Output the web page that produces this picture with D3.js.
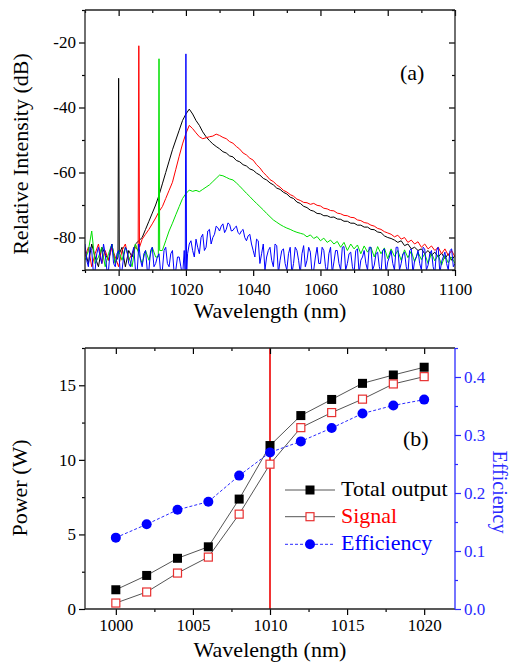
<!DOCTYPE html>
<html>
<head>
<meta charset="utf-8">
<script src="https://cdn.jsdelivr.net/npm/d3@7"></script>
<style>
body { margin: 0; background: #fff; }
</style>
</head>
<body>
<svg id="fig" width="512" height="667" font-family="Liberation Serif"></svg>
<script>
// ---- panel (a): spectra, 1 nm grid from 990 to 1100 nm
const gridWl = d3.range(990, 1101, 1);
// the blue trace is noisier, it also has readings in between (990.5 ... 1099.5)
const halfWl = d3.range(990.5, 1100, 1);

const blackDb = [
  -84, -88, -82, -86, -89, -83, -85, -87, -82, -88,
  -85, -83, -89, -84, -86, -82, -81, -80, -77.5, -75,
  -72.5, -70, -67, -63.5, -60, -56.5, -53, -50, -47, -44,
  -42, -40.5, -42, -44, -45.5, -47.5, -49, -50.2, -51.2, -52,
  -52.7, -53.6, -54, -54.9, -55.2, -56.3, -56.7, -57.6, -58, -58.9,
  -59.3, -60.2, -60.8, -61.8, -62.3, -63.2, -63.8, -64.8, -65.2, -66.1,
  -66.6, -67.6, -68, -69.1, -69.5, -70.4, -70.8, -71.6, -71.9, -72.6,
  -72.7, -73.3, -73.3, -73.8, -73.7, -74.3, -74.4, -75, -75, -75.6,
  -75.6, -76.2, -76.2, -76.8, -76.8, -77.5, -77.6, -78.3, -78.5, -79.5,
  -80, -80.3, -80.8, -81.5, -81, -82.5, -82, -83.5, -83, -84,
  -83.5, -85, -84, -85.5, -84.5, -86, -84.8, -86.5, -85, -87, -85.5
];

const redDb = [
  -86, -83, -89, -85, -82, -88, -84, -87, -83, -86,
  -89, -84, -82, -87, -85, -83, -81, -80.5, -79, -77.5,
  -75.8, -74, -72, -70.5, -68, -65.5, -63, -59, -55, -51.2,
  -48, -45.5, -46.5, -47.8, -49, -49.6, -49.3, -49, -48.8, -48.2,
  -48.6, -49.2, -49.6, -50.5, -51, -52, -52.8, -54, -54.6, -55.6,
  -56.2, -57.6, -58.6, -60, -61, -62.2, -62.8, -63.8, -64.5, -65.5,
  -66, -66.8, -67.3, -68.2, -68.6, -69.2, -69.3, -69.8, -69.5, -70.1,
  -70.3, -71, -71.2, -71.7, -71.8, -72.5, -72.7, -73.2, -73.3, -73.8,
  -73.9, -74.6, -74.8, -75.4, -75.6, -76.2, -76.5, -77.2, -77.5, -78.2,
  -78.6, -79, -79.8, -79.3, -80.5, -80, -81.5, -80.8, -82, -81.3,
  -83, -82, -83.5, -82.6, -84, -83, -85, -83.5, -85.5, -84, -86
];

const greenDb = [
  -87, -84, -78, -88, -86, -83, -89, -85, -82, -88,
  -84, -87, -83, -86, -89, -82, -85, -88, -84, -87,
  -83, -86, -85, -84, -81, -78, -75.6, -73, -70.5, -68,
  -66.5, -65.4, -65.8, -65.5, -65.9, -65.2, -64.5, -63.8, -62.8, -61.8,
  -60.8, -61, -61.5, -62, -62.3, -63.2, -64.2, -65.3, -66.4, -67.4,
  -68.5, -69.5, -70.5, -71.5, -72.6, -73.6, -74.6, -75.3, -76, -76.6,
  -77.1, -77.5, -78, -78.4, -78.7, -79, -79.8, -79.2, -80.3, -79.7,
  -81, -80.2, -81.5, -80.8, -82, -81.2, -83, -81.5, -84, -82,
  -83.5, -82.3, -85, -82.6, -84.5, -83, -86, -82.8, -85, -83.2,
  -86.5, -83.5, -85.8, -84, -87, -83.8, -86.2, -84.2, -87.5, -84.5,
  -86.8, -85, -88, -84.8, -87.2, -85.3, -88.5, -85.5, -87.8, -86, -88
];

const blueDb = [
  -82, -89, -84, -90, -83, -88, -85, -90, -82, -89,
  -84, -90, -83, -88, -85, -90, -82, -89, -84, -90,
  -83, -88, -85, -90, -83, -89, -84, -90, -86, -92,
  -88, -82, -84, -80.5, -85, -79, -83, -77.5, -80, -76.5,
  -78, -75.8, -77.5, -76, -77.8, -76.5, -79, -77.5, -81, -79,
  -84, -80.5, -88, -82, -86, -83, -89, -82.5, -87, -83.5,
  -90, -83, -88, -84, -91, -82.5, -87, -84.5, -90, -83,
  -88, -84, -91, -83, -87.5, -84, -90, -82.8, -88, -84.5,
  -91, -83.5, -87, -84, -90, -83, -88.5, -84.5, -91, -83.5,
  -87.5, -84, -90, -83, -88, -84.5, -91, -83.5, -87, -84,
  -90, -83.5, -88.5, -84, -91, -83, -87.5, -84.5, -90, -83.5, -88
];

const blueHalfDb = [
  -87, -83, -91, -85, -86, -82, -90, -84, -88, -85,
  -91, -86, -84, -89, -83, -91, -87, -85, -90, -84,
  -89, -86, -91, -84, -88, -85, -91, -86, -89, -84,
  -85, -81, -86, -83, -80, -84, -78, -82, -79, -77,
  -76.5, -78.5, -75.5, -78, -77, -78.5, -78, -80, -79.5, -82,
  -86, -81, -85, -90, -84, -87, -82, -91, -84, -88,
  -85, -91, -83, -87, -85, -89, -83, -91, -86, -88,
  -83, -89, -85, -91, -84, -88, -83, -90, -85, -89,
  -84, -91, -86, -88, -83, -90, -85, -89, -84, -91,
  -86, -88, -83, -90, -85, -89, -84, -91, -86, -88,
  -83, -90, -85, -89, -84, -91, -86, -88, -84, -89
];

// narrow laser lines (pump/seed) of each trace
const spikeWl = [
  [999.8, 1000, 1000.2],
  [1005.8, 1006, 1006.2],
  [1011.8, 1012, 1012.2],
  [1019.8, 1020, 1020.2]
];
const spikeDb = [
  [-86, -31, -85],
  [-84, -21, -83],
  [-86, -25, -84],
  [-92, -23.5, -92]
];

const traceColors = ["#000000", "#ff0000", "#00e000", "#0000ff"];

// ---- panel (b): power & efficiency
const wlB = [1000, 1002, 1004, 1006, 1008, 1010, 1012, 1014, 1016, 1018, 1020];
const totalOut = [1.29, 2.25, 3.4, 4.17, 7.37, 10.96, 12.97, 14.05, 15.13, 15.69, 16.21];
const signal = [0.4, 1.14, 2.41, 3.48, 6.36, 9.71, 12.16, 13.17, 14.07, 15.09, 15.58];
const efficiency = [0.123, 0.146, 0.171, 0.185, 0.23, 0.27, 0.289, 0.312, 0.337, 0.351, 0.361];
const legendLabels = ["Total output", "Signal", "Efficiency"];

const svg = d3.select("#fig");
const serif = "Liberation Serif";
const axisColor = "#222";
const tickFont = 17;
const labelFont = 22;

function styleAxis(g, color) {
  g.attr("font-family", serif).attr("font-size", tickFont);
  g.select(".domain").remove();
  g.selectAll("line").attr("stroke", color).attr("stroke-width", 1.2);
  g.selectAll("text").attr("fill", color);
}

function frame(g, l, r, t, b, rightColor) {
  g.append("line").attr("x1", l).attr("x2", r).attr("y1", t).attr("y2", t).attr("stroke", axisColor).attr("stroke-width", 1.3);
  g.append("line").attr("x1", l).attr("x2", r).attr("y1", b).attr("y2", b).attr("stroke", axisColor).attr("stroke-width", 1.3);
  g.append("line").attr("x1", l).attr("x2", l).attr("y1", t).attr("y2", b).attr("stroke", axisColor).attr("stroke-width", 1.3);
  g.append("line").attr("x1", r).attr("x2", r).attr("y1", t).attr("y2", b).attr("stroke", rightColor).attr("stroke-width", 1.3);
}

// =========== panel (a)
{
  const L = 85, R = 455, T = 10, B = 270;
  const x = d3.scaleLinear().domain([990, 1100]).range([L, R]);
  const y = d3.scaleLinear().domain([-90, -10]).range([B, T]);
  const g = svg.append("g");

  g.append("clipPath").attr("id", "clipA")
    .append("rect").attr("x", L).attr("y", T).attr("width", R - L).attr("height", B - T);

  const line = d3.line().x(d => x(d[0])).y(d => y(d[1]));
  const sources = [
    [[gridWl, blackDb]],
    [[gridWl, redDb]],
    [[gridWl, greenDb]],
    [[gridWl, blueDb], [halfWl, blueHalfDb]]
  ];
  const traces = sources.map((parts, i) => {
    const lo = spikeWl[i][0], hi = spikeWl[i][2];
    const pts = [];
    parts.forEach(([ws, vs]) => ws.forEach((w, j) => {
      if (w < lo || w > hi) pts.push([w, vs[j]]);
    }));
    spikeWl[i].forEach((w, k) => pts.push([w, spikeDb[i][k]]));
    return pts.sort((a, b) => a[0] - b[0]);
  });

  g.append("g").attr("clip-path", "url(#clipA)")
    .selectAll("path")
    .data(traces)
    .join("path")
    .attr("d", line)
    .attr("fill", "none")
    .attr("stroke", (d, i) => traceColors[i])
    .attr("stroke-width", 1)
    .attr("stroke-linejoin", "miter");

  const xMajor = [1000, 1020, 1040, 1060, 1080, 1100];
  const xMinor = [990, 1010, 1030, 1050, 1070, 1090];
  const yMajor = [-80, -60, -40, -20];
  const yMinor = [-90, -70, -50, -30, -10];

  g.append("g").attr("transform", `translate(0,${B})`)
    .call(d3.axisBottom(x).tickValues(xMajor).tickSize(6).tickPadding(7).tickFormat(d3.format("d")))
    .call(a => styleAxis(a, "#000"));
  g.append("g").attr("transform", `translate(0,${B})`)
    .call(d3.axisBottom(x).tickValues(xMinor).tickSize(3).tickFormat(""))
    .call(a => styleAxis(a, "#000"));
  g.append("g").attr("transform", `translate(0,${T})`)
    .call(d3.axisBottom(x).tickValues(xMajor).tickSize(6).tickFormat(""))
    .call(a => styleAxis(a, "#000"));
  g.append("g").attr("transform", `translate(0,${T})`)
    .call(d3.axisBottom(x).tickValues(xMinor).tickSize(3).tickFormat(""))
    .call(a => styleAxis(a, "#000"));

  g.append("g").attr("transform", `translate(${L},0)`)
    .call(d3.axisLeft(y).tickValues(yMajor).tickSize(6).tickPadding(3).tickFormat(d => String(d)))
    .call(a => styleAxis(a, "#000"));
  g.append("g").attr("transform", `translate(${L},0)`)
    .call(d3.axisLeft(y).tickValues(yMinor).tickSize(3).tickFormat(""))
    .call(a => styleAxis(a, "#000"));
  g.append("g").attr("transform", `translate(${R},0)`)
    .call(d3.axisLeft(y).tickValues(yMajor).tickSize(6).tickFormat(""))
    .call(a => styleAxis(a, "#000"));
  g.append("g").attr("transform", `translate(${R},0)`)
    .call(d3.axisLeft(y).tickValues(yMinor).tickSize(3).tickFormat(""))
    .call(a => styleAxis(a, "#000"));

  frame(g, L, R, T, B, axisColor);

  g.append("text").attr("x", 400).attr("y", 80).attr("font-size", labelFont).text("(a)");
  g.append("text").attr("x", 270).attr("y", 318).attr("text-anchor", "middle")
    .attr("font-size", labelFont).text("Wavelength (nm)");
  g.append("text").attr("transform", "translate(28,154) rotate(-90)").attr("text-anchor", "middle")
    .attr("font-size", labelFont).text("Relative Intensity (dB)");
}

// =========== panel (b)
{
  const L = 85, R = 455, T = 348, B = 609;
  const blue = "#2a2aff";
  const x = d3.scaleLinear().domain([998, 1022]).range([L, R]);
  const yP = d3.scaleLinear().domain([0, 17.5]).range([B, T]);
  const yE = d3.scaleLinear().domain([0, 0.45]).range([B, T]);
  const g = svg.append("g");

  const xMajor = [1000, 1005, 1010, 1015, 1020];
  const xMinor = [1002.5, 1007.5, 1012.5, 1017.5];
  const pMajor = [0, 5, 10, 15];
  const pMinor = [2.5, 7.5, 12.5, 17.5];
  const eMajor = [0, 0.1, 0.2, 0.3, 0.4];
  const eMinor = [0.05, 0.15, 0.25, 0.35, 0.45];

  // marker line at 1010 nm
  g.append("line")
    .attr("x1", x(1010)).attr("x2", x(1010))
    .attr("y1", T).attr("y2", B)
    .attr("stroke", "#ee0000").attr("stroke-width", 1.6);

  const lineP = d3.line().x((d, i) => x(wlB[i])).y(d => yP(d));
  const lineE = d3.line().x((d, i) => x(wlB[i])).y(d => yE(d));

  g.append("path").attr("d", lineP(totalOut)).attr("fill", "none").attr("stroke", "#555").attr("stroke-width", 1);
  g.append("path").attr("d", lineP(signal)).attr("fill", "none").attr("stroke", "#555").attr("stroke-width", 1);
  g.append("path").attr("d", lineE(efficiency)).attr("fill", "none").attr("stroke", blue)
    .attr("stroke-width", 1).attr("stroke-dasharray", "3,2");

  const sq = 9;
  g.append("g").selectAll("rect").data(totalOut).join("rect")
    .attr("x", (d, i) => x(wlB[i]) - sq / 2).attr("y", d => yP(d) - sq / 2)
    .attr("width", sq).attr("height", sq).attr("fill", "#000");
  g.append("g").selectAll("rect").data(signal).join("rect")
    .attr("x", (d, i) => x(wlB[i]) - 4).attr("y", d => yP(d) - 4)
    .attr("width", 8).attr("height", 8).attr("fill", "#fff")
    .attr("stroke", "#e83030").attr("stroke-width", 1.2);
  g.append("g").selectAll("circle").data(efficiency).join("circle")
    .attr("cx", (d, i) => x(wlB[i])).attr("cy", d => yE(d))
    .attr("r", 5).attr("fill", "#0000ff");

  // axes
  g.append("g").attr("transform", `translate(0,${B})`)
    .call(d3.axisBottom(x).tickValues(xMajor).tickSize(6).tickPadding(4).tickFormat(d3.format("d")))
    .call(a => styleAxis(a, "#000"));
  g.append("g").attr("transform", `translate(0,${B})`)
    .call(d3.axisBottom(x).tickValues(xMinor).tickSize(3).tickFormat(""))
    .call(a => styleAxis(a, "#000"));
  g.append("g").attr("transform", `translate(0,${T})`)
    .call(d3.axisBottom(x).tickValues(xMajor).tickSize(6).tickFormat(""))
    .call(a => styleAxis(a, "#000"));
  g.append("g").attr("transform", `translate(0,${T})`)
    .call(d3.axisBottom(x).tickValues(xMinor).tickSize(3).tickFormat(""))
    .call(a => styleAxis(a, "#000"));

  g.append("g").attr("transform", `translate(${L},0)`)
    .call(d3.axisLeft(yP).tickValues(pMajor).tickSize(6).tickPadding(3).tickFormat(d3.format("d")))
    .call(a => styleAxis(a, "#000"));
  g.append("g").attr("transform", `translate(${L},0)`)
    .call(d3.axisLeft(yP).tickValues(pMinor).tickSize(3).tickFormat(""))
    .call(a => styleAxis(a, "#000"));

  g.append("g").attr("transform", `translate(${R},0)`)
    .call(d3.axisRight(yE).tickValues(eMajor).tickSize(6).tickPadding(3).tickFormat(d3.format(".1f")))
    .call(a => styleAxis(a, blue));
  g.append("g").attr("transform", `translate(${R},0)`)
    .call(d3.axisRight(yE).tickValues(eMinor).tickSize(3).tickFormat(""))
    .call(a => styleAxis(a, blue));

  frame(g, L, R, T, B, blue);

  // legend
  const legY = [490, 516.7, 544.3];
  const legColors = ["#000", "#ff0000", "#0000ff"];
  const leg = g.append("g");
  legY.forEach((ly, i) => {
    leg.append("line").attr("x1", 285).attr("x2", 335).attr("y1", ly).attr("y2", ly)
      .attr("stroke", i === 2 ? blue : "#555").attr("stroke-width", 1)
      .attr("stroke-dasharray", i === 2 ? "3,2" : null);
    if (i === 0) {
      leg.append("rect").attr("x", 310 - sq / 2).attr("y", ly - sq / 2).attr("width", sq).attr("height", sq).attr("fill", "#000");
    } else if (i === 1) {
      leg.append("rect").attr("x", 306).attr("y", ly - 4).attr("width", 8).attr("height", 8)
        .attr("fill", "#fff").attr("stroke", "#e83030").attr("stroke-width", 1.2);
    } else {
      leg.append("circle").attr("cx", 310).attr("cy", ly).attr("r", 5).attr("fill", "#0000ff");
    }
    leg.append("text").attr("x", 341).attr("y", ly + 6).attr("font-size", labelFont)
      .attr("fill", legColors[i]).text(legendLabels[i]);
  });

  g.append("text").attr("x", 403).attr("y", 446).attr("font-size", labelFont).text("(b)");
  g.append("text").attr("x", 270).attr("y", 657).attr("text-anchor", "middle")
    .attr("font-size", labelFont).text("Wavelength (nm)");
  g.append("text").attr("transform", "translate(27,488) rotate(-90)").attr("text-anchor", "middle")
    .attr("font-size", labelFont).text("Power (W)");
  g.append("text").attr("transform", "translate(493,492) rotate(90)").attr("text-anchor", "middle")
    .attr("font-size", 20).attr("fill", blue).text("Efficiency");
}
</script>
</body>
</html>
